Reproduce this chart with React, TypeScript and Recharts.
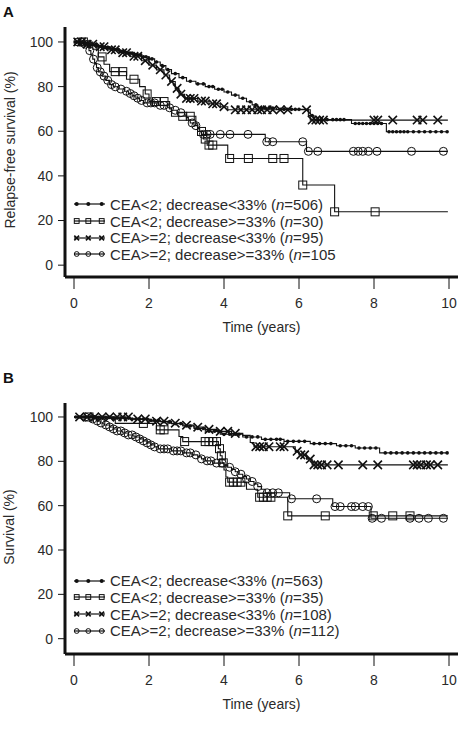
import React from 'react';
import { ComposedChart, Line, Scatter, XAxis, YAxis } from 'recharts';

const FONT = '"Liberation Sans", Arial, Helvetica, sans-serif';
const INK = '#111';
const TEXT = '#2a2a2a';

// follow-up ends a little before 10 years
const END = 9.97;
const X_TICKS = [0, 2, 4, 6, 8, 10];
const Y_TICKS = [0, 20, 40, 60, 80, 100];

// ---------- Panel A: relapse-free survival ----------
const a1Time = [0, 0.2, 0.4, 0.6, 0.8, 1.0, 1.2, 1.4, 1.6, 1.8, 2.0, 2.15, 2.3, 2.45, 2.6, 2.8, 3.0, 3.25, 3.5, 3.75, 4.0, 4.2, 4.4, 4.6, 4.75, 4.9, 5.4, 6.25, 6.4, 7.4, 8.33];
const a1Surv = [100, 99.4, 98.8, 98.1, 97.4, 96.6, 95.8, 95.0, 94.2, 93.4, 92.4, 91.0, 89.4, 87.6, 85.8, 84.0, 82.4, 81.2, 80.0, 78.8, 77.6, 76.2, 74.8, 73.2, 71.8, 70.4, 69.8, 67.0, 65.2, 63.5, 59.8];
const a1Cens = [0.05, 0.12, 0.2, 0.28, 0.35, 0.42, 0.5, 0.58, 0.65, 0.72, 0.8, 0.88, 0.95, 1.02, 1.1, 1.18, 1.25, 1.32, 1.4, 1.48, 1.55, 1.62, 1.7, 1.78, 1.85, 1.92, 2.0, 2.08, 2.2, 2.35, 2.5, 2.7, 2.9, 3.1, 3.3, 3.45, 3.6, 3.7, 3.85, 3.95, 4.1, 4.3, 4.5, 4.7, 4.85, 5.0, 5.1, 5.2, 5.3, 5.5, 5.6, 5.7, 5.8, 5.9, 6.0, 6.35, 6.5, 6.6, 6.75, 6.9, 7.0, 7.1, 7.2, 7.5, 7.6, 7.7, 7.8, 7.9, 8.0, 8.1, 8.2, 8.4, 8.5, 8.6, 8.7, 8.8, 8.9, 9.05, 9.2, 9.35, 9.5, 9.65, 9.8, 9.95];

const a2Time = [0, 0.5, 0.65, 0.8, 0.95, 1.4, 1.75, 1.9, 2.0, 2.55, 2.6, 3.25, 3.3, 3.45, 3.55, 4.1, 6.1, 6.95];
const a2Surv = [100, 96.7, 93.3, 90.0, 86.7, 83.3, 80.0, 76.7, 73.3, 70.0, 66.7, 63.3, 59.9, 56.5, 53.8, 47.8, 35.9, 23.9];
const a2Cens = [0.25, 0.75, 1.1, 1.3, 1.6, 1.95, 2.2, 2.4, 2.9, 3.1, 3.4, 3.5, 3.6, 3.7, 4.15, 4.65, 5.3, 5.6, 6.1, 6.95, 8.03];

const a3Time = [0, 0.3, 0.6, 0.9, 1.2, 1.5, 1.8, 2.0, 2.2, 2.4, 2.55, 2.7, 2.8, 2.95, 3.3, 3.6, 3.9, 4.1, 6.3];
const a3Surv = [100, 99.0, 97.9, 96.5, 95.2, 93.6, 91.6, 89.6, 87.5, 85.2, 82.3, 79.2, 76.6, 74.7, 73.5, 72.3, 71.0, 69.6, 65.0];
const a3Cens = [0.1, 0.2, 0.35, 0.5, 0.7, 0.8, 1.0, 1.1, 1.3, 1.4, 1.6, 1.7, 1.9, 2.1, 2.3, 2.45, 2.6, 2.75, 2.85, 3.0, 3.1, 3.2, 3.4, 3.5, 3.7, 3.8, 4.0, 4.3, 4.45, 4.6, 4.75, 4.9, 5.0, 5.15, 5.3, 5.5, 5.7, 6.2, 6.35, 6.45, 6.55, 6.65, 8.0, 8.1, 8.5, 9.15, 9.3, 9.7];

const a4Time = [0, 0.25, 0.35, 0.4, 0.45, 0.5, 0.55, 0.6, 0.65, 0.75, 0.85, 0.95, 1.05, 1.2, 1.35, 1.45, 1.55, 1.65, 1.75, 1.85, 2.25, 2.5, 2.6, 2.75, 2.95, 3.0, 3.05, 3.1, 3.2, 3.3, 3.35, 3.4, 5.1, 6.2];
const a4Surv = [100, 99.0, 98.0, 96.1, 94.2, 92.3, 90.4, 88.5, 86.6, 84.7, 82.8, 80.9, 79.9, 78.9, 77.9, 76.9, 75.9, 74.8, 73.8, 72.7, 71.6, 70.5, 69.4, 68.3, 67.2, 66.1, 64.9, 63.7, 62.5, 61.3, 60.1, 58.6, 55.3, 51.0];
const a4Cens = [0.1, 0.2, 0.3, 0.42, 0.52, 0.62, 0.7, 0.8, 0.9, 1.0, 1.1, 1.25, 1.4, 1.5, 1.6, 1.7, 1.8, 1.95, 2.05, 2.15, 2.3, 2.4, 2.55, 2.7, 2.85, 3.15, 3.25, 3.45, 3.55, 3.63, 3.9, 4.16, 4.64, 5.14, 5.3, 6.1, 6.25, 6.5, 7.45, 7.58, 7.7, 7.85, 8.08, 9.0, 9.85];

const aN = [506, 30, 95, 105];

// ---------- Panel B: overall survival ----------
const b1Time = [0, 0.5, 1.0, 1.5, 2.0, 2.3, 2.6, 2.9, 3.2, 3.5, 3.9, 4.5, 5.0, 5.6, 6.3, 7.0, 7.5, 8.15];
const b1Surv = [100, 99.8, 99.5, 99.1, 98.5, 97.9, 97.0, 95.9, 94.8, 93.6, 92.2, 91.0, 89.9, 89.0, 88.0, 87.0, 86.0, 83.8];
const b1Cens = [0.05, 0.15, 0.25, 0.35, 0.45, 0.55, 0.65, 0.75, 0.85, 0.95, 1.05, 1.15, 1.25, 1.35, 1.45, 1.55, 1.65, 1.75, 1.85, 1.95, 2.05, 2.15, 2.25, 2.4, 2.55, 2.7, 2.85, 3.0, 3.1, 3.3, 3.45, 3.6, 3.75, 3.85, 4.0, 4.15, 4.3, 4.4, 4.6, 4.75, 4.9, 5.1, 5.25, 5.4, 5.5, 5.7, 5.85, 6.0, 6.15, 6.4, 6.55, 6.7, 6.85, 7.1, 7.25, 7.4, 7.6, 7.75, 7.9, 8.05, 8.3, 8.45, 8.6, 8.75, 8.9, 9.05, 9.2, 9.35, 9.5, 9.65, 9.8, 9.95];

const b2Time = [0, 1.1, 2.2, 2.8, 2.9, 3.85, 3.9, 3.95, 4.0, 4.05, 4.1, 4.6, 4.9, 5.7];
const b2Surv = [100, 97.1, 94.2, 91.2, 88.9, 85.7, 82.5, 79.3, 76.1, 72.9, 70.6, 67.4, 63.8, 55.4];
const b2Cens = [0.4, 1.85, 2.3, 2.4, 2.95, 3.5, 3.6, 3.7, 3.8, 3.88, 3.93, 3.98, 4.15, 4.25, 4.35, 4.45, 4.95, 5.05, 5.15, 5.25, 5.7, 6.7, 7.98, 8.5, 8.96];

const b3Time = [0, 1.5, 2.0, 2.5, 2.9, 3.2, 3.5, 3.8, 4.2, 4.5, 4.7, 4.8, 5.9, 6.0, 6.2, 6.35];
const b3Surv = [100, 99.1, 98.1, 97.2, 96.3, 95.4, 94.4, 93.5, 92.6, 91.7, 88.5, 86.6, 84.5, 82.9, 81.0, 78.4];
const b3Cens = [0.15, 0.35, 0.55, 0.75, 0.95, 1.15, 1.3, 1.45, 1.7, 1.9, 2.2, 2.4, 2.7, 3.0, 3.3, 3.6, 3.9, 4.1, 4.3, 4.85, 4.95, 5.05, 5.2, 5.5, 5.6, 5.95, 6.05, 6.15, 6.3, 6.4, 6.5, 6.6, 6.75, 7.05, 7.7, 8.1, 9.05, 9.15, 9.25, 9.4, 9.5, 9.7];

const b4Time = [0, 0.5, 0.6, 0.7, 0.8, 0.95, 1.05, 1.15, 1.3, 1.45, 1.6, 1.75, 1.85, 1.95, 2.05, 2.15, 2.25, 2.6, 2.9, 3.15, 3.3, 3.4, 3.5, 3.7, 4.0, 4.1, 4.2, 4.3, 4.4, 4.5, 4.6, 4.7, 4.8, 4.9, 5.0, 5.1, 5.75, 6.9, 7.92];
const b4Surv = [100, 99.1, 98.2, 97.3, 96.4, 95.5, 94.6, 93.7, 92.8, 91.9, 91.0, 90.1, 89.2, 88.3, 87.4, 86.5, 85.6, 84.7, 83.8, 82.9, 82.0, 81.1, 80.2, 79.2, 78.3, 77.3, 76.3, 75.3, 74.2, 73.1, 72.0, 70.9, 69.8, 68.6, 67.4, 65.8, 63.1, 59.6, 54.3];
const b4Cens = [0.3, 0.5, 0.62, 0.72, 0.85, 0.95, 1.05, 1.15, 1.25, 1.35, 1.45, 1.55, 1.65, 1.75, 1.85, 1.95, 2.05, 2.15, 2.3, 2.4, 2.5, 2.65, 2.75, 2.85, 3.0, 3.1, 3.25, 3.4, 3.55, 3.65, 3.8, 3.95, 4.15, 4.3, 4.45, 4.6, 4.75, 4.9, 5.15, 5.3, 5.45, 5.8, 6.47, 6.96, 7.1, 7.4, 7.5, 7.7, 7.85, 7.95, 8.2, 8.96, 9.2, 9.45, 9.85];

const bN = [563, 35, 108, 112];

const groupLabels = ['CEA<2; decrease<33%', 'CEA<2; decrease>=33%', 'CEA>=2; decrease<33%', 'CEA>=2; decrease>=33%'];
const markKinds = ['dot', 'square', 'cross', 'ring'];

type Pt = { t: number; s: number };

const stepPoints = (time: number[], surv: number[]): Pt[] => [
  ...time.map((t, i) => ({ t, s: surv[i] })),
  { t: END, s: surv[surv.length - 1] },
];

// censor ticks sit on the curve
const survAt = (time: number[], surv: number[], t: number) => {
  let v = surv[0];
  time.forEach((tt, i) => {
    if (tt <= t) v = surv[i];
  });
  return v;
};

const censorPoints = (time: number[], surv: number[], cens: number[]): Pt[] =>
  cens.map((t) => ({ t, s: survAt(time, surv, t) }));

function Mark({ kind, cx, cy, r }: { kind: string; cx: number; cy: number; r: number }) {
  if (kind === 'dot') return <circle cx={cx} cy={cy} r={r} fill={INK} />;
  if (kind === 'square')
    return <rect x={cx - r} y={cy - r} width={2 * r} height={2 * r} fill="none" stroke={INK} strokeWidth={1} />;
  if (kind === 'cross')
    return (
      <path
        d={`M${cx - r},${cy - r}L${cx + r},${cy + r}M${cx - r},${cy + r}L${cx + r},${cy - r}`}
        stroke={INK}
        strokeWidth={1.6}
      />
    );
  return <circle cx={cx} cy={cy} r={r} fill="none" stroke={INK} strokeWidth={1} />;
}

const plotSize: Record<string, number> = { dot: 1.8, square: 4, cross: 4.2, ring: 4 };
const legendSize: Record<string, number> = { dot: 2, square: 2.4, cross: 2.4, ring: 2.4 };

const panelA = [
  { steps: stepPoints(a1Time, a1Surv), marks: censorPoints(a1Time, a1Surv, a1Cens) },
  { steps: stepPoints(a2Time, a2Surv), marks: censorPoints(a2Time, a2Surv, a2Cens) },
  { steps: stepPoints(a3Time, a3Surv), marks: censorPoints(a3Time, a3Surv, a3Cens) },
  { steps: stepPoints(a4Time, a4Surv), marks: censorPoints(a4Time, a4Surv, a4Cens) },
];

const panelB = [
  { steps: stepPoints(b1Time, b1Surv), marks: censorPoints(b1Time, b1Surv, b1Cens) },
  { steps: stepPoints(b2Time, b2Surv), marks: censorPoints(b2Time, b2Surv, b2Cens) },
  { steps: stepPoints(b3Time, b3Surv), marks: censorPoints(b3Time, b3Surv, b3Cens) },
  { steps: stepPoints(b4Time, b4Surv), marks: censorPoints(b4Time, b4Surv, b4Cens) },
];

interface PanelProps {
  curves: { steps: Pt[]; marks: Pt[] }[];
  height: number;
  top: number;
  bottom: number;
  yMin: number;
  yMax: number;
}

function KMPanel({ curves, height, top, bottom, yMin, yMax }: PanelProps) {
  const tickStyle = { fontSize: 14, fill: TEXT, fontFamily: FONT };
  return (
    <ComposedChart width={463} height={height} margin={{ top, right: 5, bottom, left: 0 }}>
      <XAxis
        type="number"
        dataKey="t"
        domain={[-0.24, 10.24]}
        ticks={X_TICKS}
        allowDataOverflow
        height={55}
        tickSize={12}
        tickMargin={9}
        axisLine={{ stroke: INK, strokeWidth: 3 }}
        tickLine={{ stroke: INK, strokeWidth: 1 }}
        tick={tickStyle}
        label={{ value: 'Time (years)', position: 'insideBottom', offset: 0, fontSize: 14, fill: TEXT, fontFamily: FONT }}
      />
      <YAxis
        type="number"
        dataKey="s"
        domain={[yMin, yMax]}
        ticks={Y_TICKS}
        allowDataOverflow
        width={65}
        tickSize={7}
        tickMargin={5}
        axisLine={{ stroke: INK, strokeWidth: 3 }}
        tickLine={{ stroke: INK, strokeWidth: 1 }}
        tick={tickStyle}
      />
      {curves.map((c, i) => (
        <Line
          key={`line-${i}`}
          data={c.steps}
          dataKey="s"
          type="stepAfter"
          stroke={INK}
          strokeWidth={1.1}
          dot={false}
          activeDot={false}
          isAnimationActive={false}
        />
      ))}
      {curves.map((c, i) => (
        <Scatter
          key={`cens-${i}`}
          data={c.marks}
          dataKey="s"
          isAnimationActive={false}
          shape={(p: any) => <Mark kind={markKinds[i]} cx={p.cx} cy={p.cy} r={plotSize[markKinds[i]]} />}
        />
      ))}
    </ComposedChart>
  );
}

function KMLegend({ top, ns, closeLast }: { top: number; ns: number[]; closeLast: boolean }) {
  return (
    <div style={{ position: 'absolute', left: 73, top, fontFamily: FONT, fontSize: 15, color: TEXT }}>
      {groupLabels.map((label, i) => (
        <div key={label} style={{ height: 16.7, display: 'flex', alignItems: 'center', whiteSpace: 'nowrap' }}>
          <svg width={37} height={12} style={{ flex: 'none' }}>
            <line x1={1} x2={32} y1={6} y2={6} stroke={INK} strokeWidth={1.2} />
            {[3.7, 15.3, 28.7].map((x) => (
              <Mark key={x} kind={markKinds[i]} cx={x} cy={6} r={legendSize[markKinds[i]]} />
            ))}
          </svg>
          <span>
            {label} (<i>n</i>={ns[i]}
            {i === 3 && !closeLast ? '' : ')'}
          </span>
        </div>
      ))}
    </div>
  );
}

const abs = (left: number, top: number): React.CSSProperties => ({ position: 'absolute', left, top });

function YTitle({ text, cx, cy }: { text: string; cx: number; cy: number }) {
  return (
    <div
      style={{
        ...abs(cx, cy),
        transform: 'translate(-50%, -50%) rotate(-90deg)',
        whiteSpace: 'nowrap',
        fontFamily: FONT,
        fontSize: 14,
        color: TEXT,
        lineHeight: '16px',
      }}
    >
      {text}
    </div>
  );
}

function PanelLetter({ text, top }: { text: string; top: number }) {
  return (
    <div style={{ ...abs(3, top), fontFamily: FONT, fontSize: 15, fontWeight: 'bold', lineHeight: '15px', color: INK }}>
      {text}
    </div>
  );
}

export default function App() {
  return (
    <div style={{ position: 'absolute', left: 0, top: 0, width: 463, height: 739, background: '#fff' }}>
      <div style={abs(0, 0)}>
        <KMPanel curves={panelA} height={350} top={27} bottom={18} yMin={-5.3} yMax={106.7} />
      </div>
      <div style={abs(0, 360)}>
        <KMPanel curves={panelB} height={379} top={43} bottom={30} yMin={-6.9} yMax={106.3} />
      </div>
      <KMLegend top={196} ns={aN} closeLast={false} />
      <KMLegend top={572.3} ns={bN} closeLast />
      <YTitle text="Relapse-free survival (%)" cx={10} cy={150} />
      <YTitle text="Survival (%)" cx={9} cy={527} />
      <PanelLetter text="A" top={4} />
      <PanelLetter text="B" top={370} />
    </div>
  );
}
